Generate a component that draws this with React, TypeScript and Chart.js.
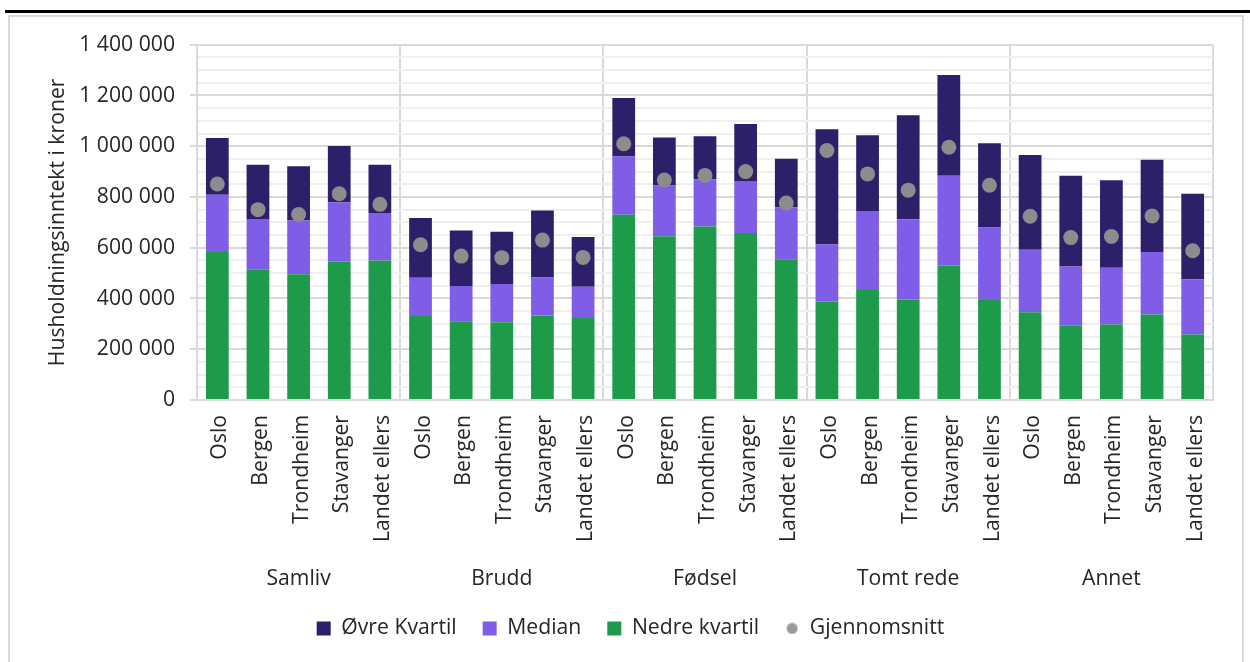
import React, { useEffect, useRef } from 'react';
import { Chart, registerables } from 'chart.js';

Chart.register(...registerables);

// ---- Data (NOK) ----
const cities = ['Oslo', 'Bergen', 'Trondheim', 'Stavanger', 'Landet ellers'];
const groups = ['Samliv', 'Brudd', 'Fødsel', 'Tomt rede', 'Annet'];
const categories = groups.flatMap(() => cities);

const nedreKvartil = [
  583000, 513000, 496000, 546000, 550000,
  331000, 310000, 306000, 333000, 323000,
  730000, 645000, 684000, 658000, 555000,
  388000, 433000, 396000, 530000, 394000,
  346000, 293000, 298000, 337000, 258000,
];
const median = [
  809000, 713000, 707000, 779000, 737000,
  482000, 449000, 457000, 483000, 446000,
  960000, 845000, 870000, 863000, 760000,
  613000, 745000, 712000, 884000, 680000,
  592000, 526000, 521000, 583000, 476000,
];
const ovreKvartil = [
  1032000, 927000, 921000, 1001000, 927000,
  717000, 668000, 663000, 747000, 642000,
  1190000, 1034000, 1039000, 1088000, 951000,
  1067000, 1043000, 1122000, 1281000, 1012000,
  965000, 884000, 866000, 947000, 813000,
];
const gjennomsnitt = [
  851000, 750000, 731000, 813000, 771000,
  612000, 567000, 561000, 630000, 562000,
  1010000, 867000, 885000, 900000, 776000,
  983000, 891000, 827000, 996000, 846000,
  724000, 640000, 644000, 725000, 588000,
];

const yMax = 1400000;
const yMajorStep = 200000;
const yMinorStep = 50000;

// ---- Styles ----
const NAVY = '#2e1f6b';
const PURPLE = '#7f5de6';
const GREEN = '#1d9b4a';
const DOT = '#8c8c8c';
const TEXT = '#262626';
const GRID_MAJOR = '#d9d9d9';
const GRID_MINOR = '#efefef';
const FONT = { family: "'Open Sans', sans-serif", size: 21.2 };

const fmt = (v: number) => String(Math.round(v)).replace(/\B(?=(\d{3})+(?!\d))/g, ' ');

export default function App() {
  const ref = useRef<HTMLCanvasElement>(null);

  useEffect(() => {
    const dot = document.createElement('canvas');
    dot.width = 12;
    dot.height = 12;
    const dctx = dot.getContext('2d')!;
    dctx.fillStyle = '#999999';
    dctx.beginPath();
    dctx.arc(6, 6, 5.5, 0, Math.PI * 2);
    dctx.fill();

    const barCommon = { stack: 's', barPercentage: 0.56, categoryPercentage: 1, borderWidth: 0 };

    const chart = new Chart(ref.current!, {
      type: 'bar',
      data: {
        labels: categories,
        datasets: [
          { ...barCommon, type: 'bar', label: 'Nedre kvartil', data: nedreKvartil, backgroundColor: GREEN },
          { ...barCommon, type: 'bar', label: 'Median', data: median.map((m, i) => m - nedreKvartil[i]), backgroundColor: PURPLE },
          { ...barCommon, type: 'bar', label: 'Øvre Kvartil', data: ovreKvartil.map((u, i) => u - median[i]), backgroundColor: NAVY },
          {
            type: 'line', label: 'Gjennomsnitt', data: gjennomsnitt, showLine: false,
            pointRadius: 7.5, pointHoverRadius: 7.5, pointBackgroundColor: DOT, pointBorderWidth: 0,
            borderColor: DOT, backgroundColor: DOT, order: -1,
          },
        ] as any,
      },
      options: {
        responsive: false,
        animation: false,
        layout: { padding: { top: 27, right: 10, bottom: 13, left: 19 } },
        plugins: {
          tooltip: { enabled: false },
          legend: {
            position: 'bottom',
            labels: {
              usePointStyle: true,
              boxWidth: 14,
              boxHeight: 14,
              padding: 26,
              font: FONT,
              color: TEXT,
              generateLabels: (c: any) => {
                const ds = c.data.datasets;
                return [2, 1, 0, 3].map((i) => ({
                  text: ds[i].label,
                  fillStyle: i === 3 ? '#999999' : ds[i].backgroundColor,
                  strokeStyle: 'rgba(0,0,0,0)',
                  lineWidth: 0,
                  pointStyle: i === 3 ? dot : 'rect',
                  hidden: false,
                  datasetIndex: i,
                  fontColor: TEXT,
                }));
              },
            },
          },
        },
        scales: {
          x: {
            stacked: true,
            weight: 0,
            grid: { display: false, drawTicks: false },
            border: { display: true, color: GRID_MAJOR, width: 2 },
            ticks: { font: FONT, color: TEXT, minRotation: 90, maxRotation: 90, autoSkip: false, padding: 15, labelOffset: 3 },
            afterFit: (s: any) => { s.height = 160; },
          },
          x2: {
            type: 'category',
            labels: groups,
            position: 'bottom',
            weight: 1,
            offset: true,
            grid: { offset: true, drawOnChartArea: true, drawTicks: false, color: GRID_MAJOR, lineWidth: 2 },
            border: { display: false },
            ticks: { font: FONT, color: TEXT, maxRotation: 0, autoSkip: false, padding: 6.3 },
            afterFit: (s: any) => { s.height = 31.8; },
          },
          y: {
            stacked: true,
            min: 0,
            max: yMax,
            border: { display: true, color: GRID_MAJOR, width: 2 },
            grid: {
              color: (c: any) => (c.tick && c.tick.value % yMajorStep === 0 ? GRID_MAJOR : GRID_MINOR),
              tickColor: (c: any) => (c.tick && c.tick.value % yMajorStep === 0 ? GRID_MAJOR : 'rgba(0,0,0,0)'),
              lineWidth: 2,
              tickLength: 7,
            },
            ticks: {
              stepSize: yMinorStep,
              autoSkip: false,
              font: FONT,
              color: TEXT,
              padding: 15,
              callback: (v: any) => (Number(v) % yMajorStep === 0 ? fmt(Number(v)) : ''),
            },
            title: {
              display: true,
              text: 'Husholdningsinntekt i kroner',
              font: FONT,
              color: TEXT,
              padding: { top: 15.8, bottom: 0 },
            },
            afterFit: (s: any) => { s.width = 168; },
          },
          yRight: {
            type: 'linear',
            position: 'right',
            display: true,
            grid: { display: false, drawTicks: false, drawOnChartArea: false },
            border: { display: false },
            ticks: { display: false },
            afterFit: (s: any) => { s.width = 19; },
          },
        },
      } as any,
    });
    return () => chart.destroy();
  }, []);

  return (
    <div style={{ position: 'absolute', left: 0, top: 0, width: 1250, height: 662, overflow: 'hidden', background: '#ffffff' }}>
      <div style={{ position: 'absolute', left: 5, top: 10, width: 1245, height: 3, background: '#000000' }} />
      <div style={{ position: 'absolute', left: 8, top: 15, width: 1232, height: 700, border: '2px solid #d9d9d9' }} />
      <div style={{ position: 'absolute', left: 10, top: 17, width: 1232, height: 645 }}>
        <canvas ref={ref} width={1232} height={645} style={{ display: 'block' }} />
      </div>
    </div>
  );
}
